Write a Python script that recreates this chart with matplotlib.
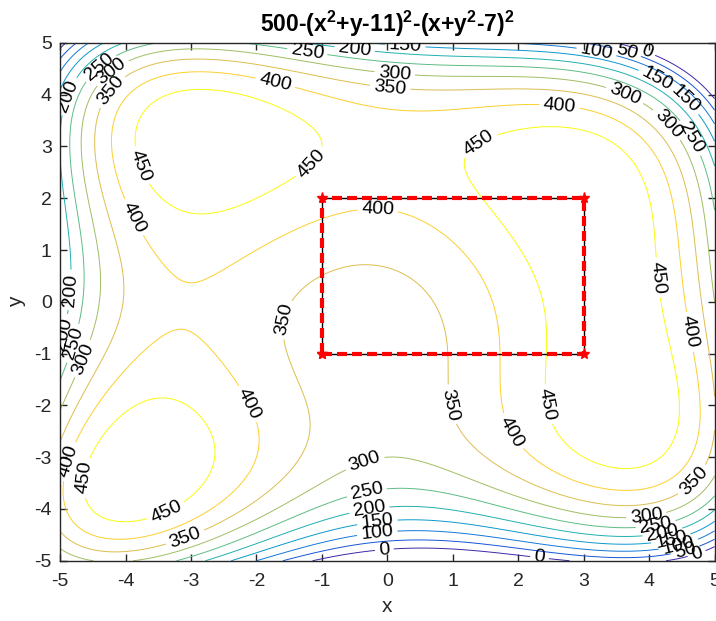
import numpy as np
import matplotlib
matplotlib.use("Agg")
import matplotlib.pyplot as plt
from matplotlib.colors import LinearSegmentedColormap

plt.rcParams["font.family"] = ["Liberation Sans", "DejaVu Sans"]
plt.rcParams["mathtext.fontset"] = "custom"
plt.rcParams["mathtext.rm"] = "Liberation Sans"
plt.rcParams["mathtext.bf"] = "Liberation Sans:bold"
plt.rcParams["axes.unicode_minus"] = False

# ---- data ----
X_RANGE = [-5, 5]
Y_RANGE = [-5, 5]
LEVELS = [0, 50, 100, 150, 200, 250, 300, 350, 400, 450]
X_TICKS = [-5, -4, -3, -2, -1, 0, 1, 2, 3, 4, 5]
Y_TICKS = [-5, -4, -3, -2, -1, 0, 1, 2, 3, 4, 5]

# rectangle (closed path) from (-1,-1) to (3,2)
RECT_X = [-1, 3, 3, -1, -1]
RECT_Y = [-1, -1, 2, 2, -1]

# approximate label positions
LABEL_POS = [
    (-1.23, 4.77), (-0.50, 4.86), (0.27, 4.90), (3.20, 4.86), (3.66, 4.83),
    (3.96, 4.83), (-1.72, 4.19), (0.11, 4.38), (0.04, 4.09), (4.13, 4.32),
    (3.63, 4.00), (4.51, 3.86), (4.31, 3.46), (4.59, 3.13), (2.63, 3.75),
    (1.41, 3.03), (-1.21, 2.74), (-3.66, 2.68), (-3.89, 1.62), (-0.15, 1.74),
    (-4.85, 3.96), (-4.36, 4.48), (-4.20, 4.42), (-4.20, 4.05),
    (-4.85, 0.23), (-4.88, -0.64), (-4.73, -0.83), (-4.54, -1.16),
    (-1.53, -0.35), (4.13, 0.47), (4.62, -0.58), (-2.10, -1.95),
    (0.94, -1.99), (1.90, -2.51), (2.42, -1.99), (-4.59, -3.40),
    (-4.85, -3.09), (-3.40, -4.00), (-3.09, -4.55), (-0.33, -3.15),
    (-0.31, -3.71), (-0.27, -4.07), (-0.15, -4.29), (-0.15, -4.54),
    (-0.05, -4.73), (2.33, -4.88), (4.69, -3.47), (3.96, -4.17),
    (4.10, -4.30), (4.20, -4.44), (4.33, -4.57), (4.45, -4.70),
    (4.55, -4.80), (4.73, -4.88),
]

# parula-like colormap
PARULA = [
    (0.2422, 0.1504, 0.6603), (0.0592, 0.3599, 0.8684), (0.0779, 0.5040, 0.8384),
    (0.0232, 0.6407, 0.7883), (0.2178, 0.7250, 0.6060), (0.5310, 0.7493, 0.4059),
    (0.8186, 0.7328, 0.3438), (0.9956, 0.7862, 0.1942), (0.9763, 0.9831, 0.0538),
]
cmap = LinearSegmentedColormap.from_list("parula", PARULA)

# function from the title
x = np.linspace(X_RANGE[0], X_RANGE[1], 301)
y = np.linspace(Y_RANGE[0], Y_RANGE[1], 301)
xx, yy = np.meshgrid(x, y)
zz = 500 - (xx**2 + yy - 11)**2 - (xx + yy**2 - 7)**2

fig = plt.figure(figsize=(7.16, 6.21), dpi=100)
ax = fig.add_axes([0.084, 0.097, 0.914, 0.834])

cs = ax.contour(xx, yy, zz, levels=LEVELS, cmap=cmap, linewidths=0.7)
ax.clabel(cs, manual=LABEL_POS, inline=True, fontsize=14, fmt="%d",
          colors="black", inline_spacing=4)

ax.plot(RECT_X, RECT_Y, color="black", linewidth=1.0)
ax.plot(RECT_X, RECT_Y, color="red", linewidth=3, linestyle="--",
        dashes=(2.4, 1.2), marker="*", markersize=8)

ax.set_xlim(X_RANGE)
ax.set_ylim(Y_RANGE)
ax.set_xticks(X_TICKS)
ax.set_yticks(Y_TICKS)
ax.tick_params(direction="in", top=True, right=True, labelsize=14,
               colors="#262626", length=5, width=1)
ax.tick_params(axis="x", pad=9)
ax.tick_params(axis="y", pad=6)
for sp in ax.spines.values():
    sp.set_color("#262626")
    sp.set_linewidth(1.0)

ax.set_xlabel("x", fontsize=15, color="#262626", labelpad=5)
ax.set_ylabel("y", fontsize=15, color="#262626", labelpad=6)
ax.set_title(r"500-(x$^{\mathbf{2}}$+y-11)$^{\mathbf{2}}$-(x+y$^{\mathbf{2}}$-7)$^{\mathbf{2}}$",
             fontsize=16.5, fontweight="bold", pad=8)

fig.savefig("out.png", dpi=100)
